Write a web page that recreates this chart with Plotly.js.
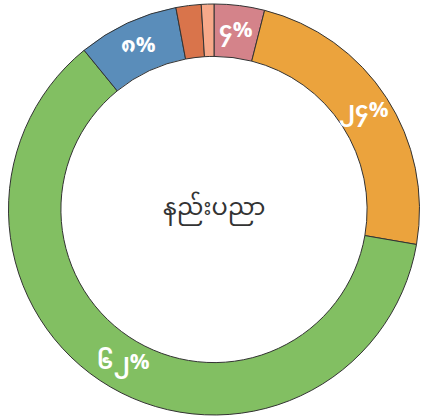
<!DOCTYPE html>
<html>
<head>
<meta charset="utf-8">
<script src="https://cdn.plot.ly/plotly-3.0.1.min.js"></script>
<style>html,body{margin:0;padding:0;background:#fff;}#chart{width:421px;height:419px;}</style>
</head>
<body>
<div id="chart"></div>
<script>
const categories = ["က", "ခ", "ဂ", "ဃ", "င", "စ"];
const values = [4, 24, 62, 8, 2, 1];
const sliceText = ["၄%", "၂၄%", "၆၂%", "၈%", "", ""];
const colors = ["#D4838A", "#EBA33D", "#82BF62", "#5A8DBA", "#D9744B", "#F7A98A"];
const centerLabel = "နည်းပညာ";

const font = "Noto Sans Myanmar, Padauk, Myanmar Text, Noto Sans, sans-serif";
const W = 421, H = 419, M = {l: 7, r: 0, t: 4, b: 4};
const hole = 0.745;

const plotW = W - M.l - M.r, plotH = H - M.t - M.b;
const R = Math.min(plotW, plotH) / 2;
const rMid = R * (1 + hole) / 2;
const total = values.reduce((a, b) => a + b, 0);

const annotations = [{
  text: centerLabel, x: 0.5, y: 0.5, xref: "paper", yref: "paper",
  showarrow: false, font: {size: 24, color: "#333333", family: font}
}];
let cum = 0;
values.forEach((v, i) => {
  const mid = (cum + v / 2) / total * 2 * Math.PI;
  cum += v;
  if (!sliceText[i]) return;
  annotations.push({
    text: sliceText[i],
    x: 0.5 + rMid * Math.sin(mid) / plotW,
    y: 0.5 + rMid * Math.cos(mid) / plotH,
    xref: "paper", yref: "paper", showarrow: false,
    xanchor: "center", yanchor: "middle",
    font: {size: 22, color: "#ffffff", family: font, weight: "bold"}
  });
});

Plotly.newPlot("chart", [{
  type: "pie",
  labels: categories,
  values: values,
  text: sliceText,
  textinfo: "none",
  sort: false,
  direction: "clockwise",
  rotation: 0,
  hole: hole,
  marker: {colors: colors, line: {color: "#333333", width: 1}},
  hoverinfo: "none"
}], {
  width: W, height: H,
  margin: M,
  showlegend: false,
  paper_bgcolor: "#ffffff",
  annotations: annotations
}, {displayModeBar: false, staticPlot: true});
</script>
</body>
</html>
